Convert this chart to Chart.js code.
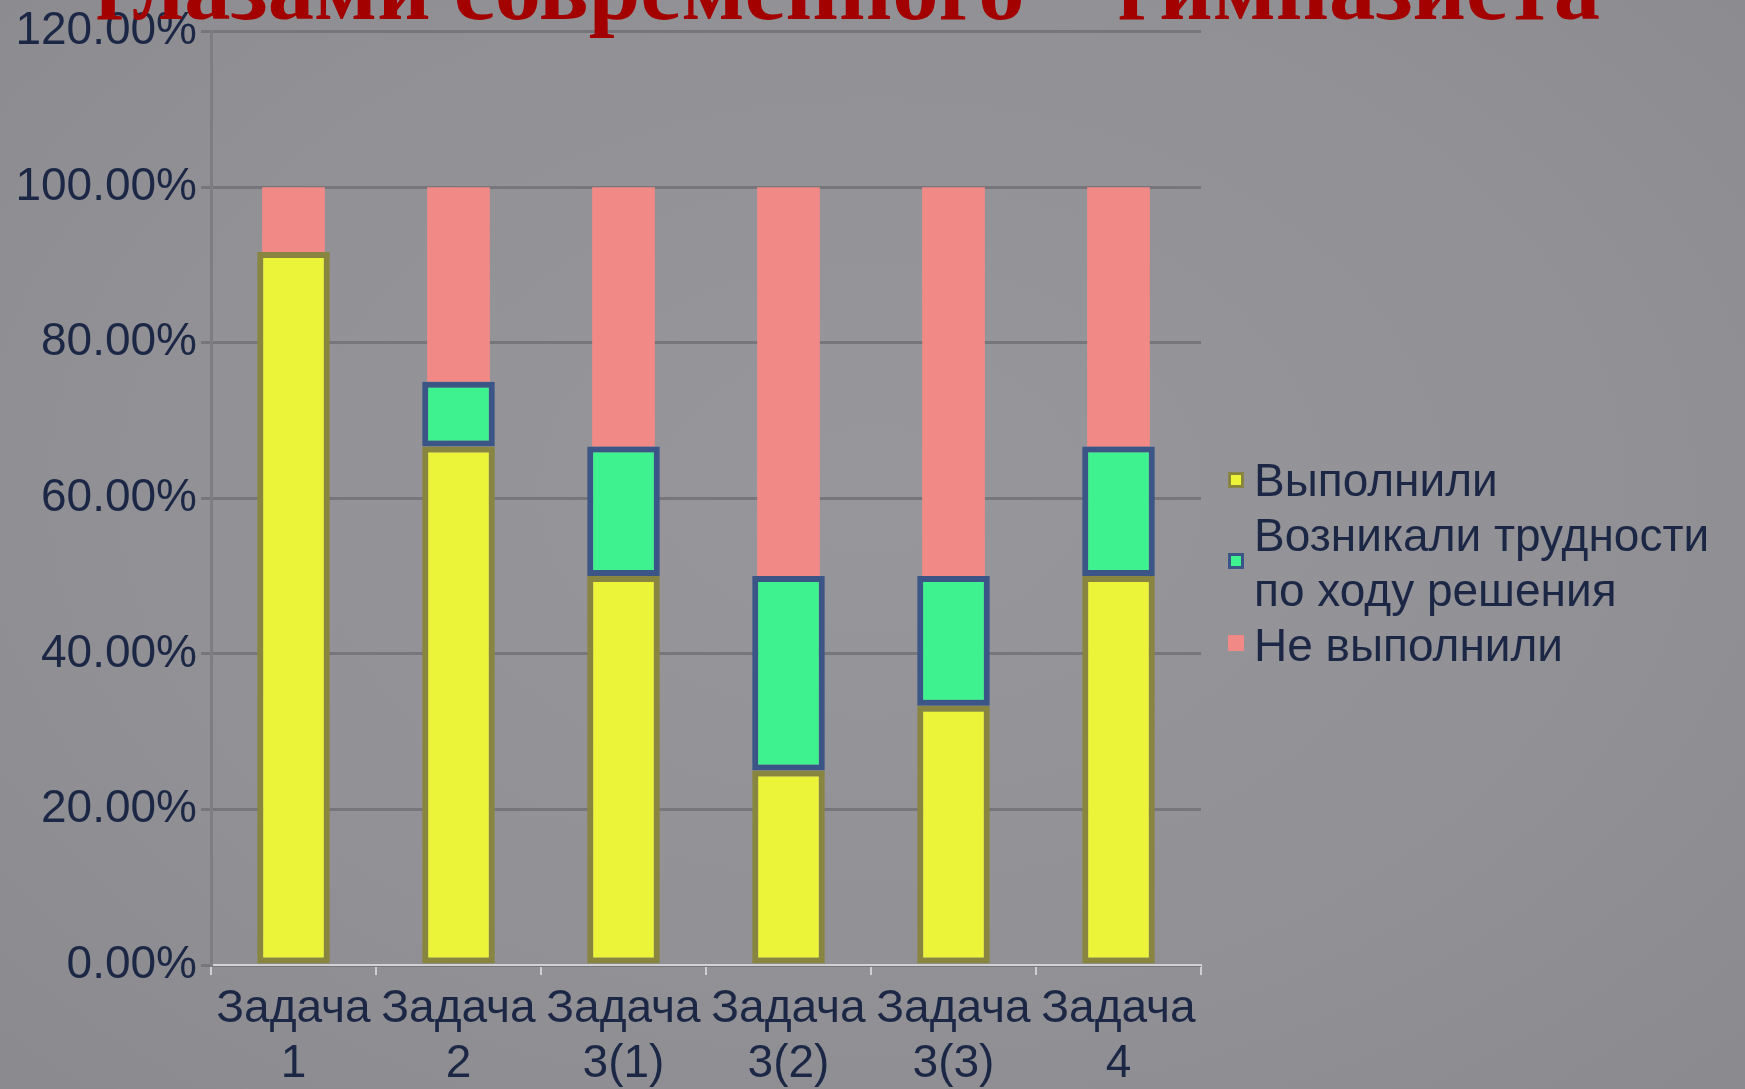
<!DOCTYPE html>
<html>
<head>
<meta charset="utf-8">
<script src="https://cdn.jsdelivr.net/npm/chart.js@4.4.0/dist/chart.umd.min.js"></script>
<style>
  html, body { margin: 0; padding: 0; }
  body {
    width: 1745px; height: 1089px; overflow: hidden; position: relative;
    background: radial-gradient(ellipse at 50% 45%, #97969b 0%, #929196 55%, #8b8a8f 100%);
  }
  #c { position: absolute; left: 0; top: 0; }
  #title {
    position: absolute; left: 95px; top: -56px; margin: 0;
    font-family: "Liberation Serif", "Times New Roman", serif; font-weight: bold;
    font-size: 90px; line-height: 90px; color: #a30000; white-space: nowrap;
    transform-origin: 0 0;
  }
  .lg { position: absolute; left: 1254px; font-family: "Liberation Sans", Arial, sans-serif;
        font-size: 46px; line-height: 55px; color: #1c2745; white-space: nowrap; }
  .mk { position: absolute; left: 1228px; width: 10px; height: 10px; border: 3px solid; }
</style>
</head>
<body>
<canvas id="c" width="1745" height="1089"></canvas>
<div id="title">глазами современного “ гимназиста</div>
<div id="legend"></div>
<script>
const categories = [['Задача','1'],['Задача','2'],['Задача','3(1)'],['Задача','3(2)'],['Задача','3(3)'],['Задача','4']];
const seriesNames = ['Выполнили', 'Возникали трудности по ходу решения', 'Не выполнили'];
const legendLines = [['Выполнили'], ['Возникали трудности', 'по ходу решения'], ['Не выполнили']];
const done      = [91.67, 66.67, 50.00, 25.00, 33.33, 50.00];
const difficult = [0.00,   8.33, 16.67, 25.00, 16.67, 16.67];
const failed    = [8.33,  25.00, 33.33, 50.00, 50.00, 33.33];
const yTicks = [0, 20, 40, 60, 80, 100, 120];

const fills   = ['#ecf43a', '#3ef28f', '#f18a86'];
const borders = ['#878540', '#3b5686', '#f18a86'];

// Legend (HTML)
(function () {
  const lg = document.getElementById('legend');
  let top = 453;
  const markerTops = [472, 553, 635];
  legendLines.forEach((lines, i) => {
    const mk = document.createElement('div');
    mk.className = 'mk';
    mk.style.top = markerTops[i] + 'px';
    mk.style.background = fills[i];
    mk.style.borderColor = borders[i];
    lg.appendChild(mk);
    lines.forEach(t => {
      const d = document.createElement('div');
      d.className = 'lg';
      d.style.top = top + 'px';
      d.textContent = t;
      lg.appendChild(d);
      top += 55;
    });
  });
})();

// Title width fit
(function () {
  const t = document.getElementById('title');
  const w = t.getBoundingClientRect().width;
  t.style.transform = 'scaleX(' + (1505 / w) + ')';
})();

const font = { family: '"Liberation Sans", Arial, sans-serif', size: 46 };

new Chart(document.getElementById('c'), {
  type: 'bar',
  data: {
    labels: categories,
    datasets: [
      { label: seriesNames[0], data: done, backgroundColor: fills[0], borderColor: borders[0],
        borderWidth: 6, borderSkipped: false, barPercentage: 0.44, categoryPercentage: 1 },
      { label: seriesNames[1], data: difficult, backgroundColor: fills[1], borderColor: borders[1],
        borderWidth: 6, borderSkipped: false, barPercentage: 0.44, categoryPercentage: 1 },
      { label: seriesNames[2], data: failed, backgroundColor: fills[2], borderWidth: 0,
        barPercentage: 0.38, categoryPercentage: 1 }
    ]
  },
  options: {
    responsive: false,
    animation: false,
    devicePixelRatio: 1,
    layout: { padding: { left: 0, right: 544, top: 29, bottom: 0 } },
    plugins: { legend: { display: false }, tooltip: { enabled: false }, title: { display: false } },
    scales: {
      x: {
        stacked: true,
        grid: { drawOnChartArea: false, drawTicks: true, tickLength: 10, color: '#cfcfd3', lineWidth: 2, offset: true },
        border: { display: true, color: '#d2d2d6', width: 2 },
        ticks: { color: '#1c2745', font: font, padding: 7, autoSkip: false, maxRotation: 0, minRotation: 0 },
        afterFit: s => { s.height = 124; }
      },
      y: {
        stacked: true,
        min: 0, max: 120,
        afterBuildTicks: s => { s.ticks = yTicks.map(v => ({ value: v })); },
        grid: { color: '#76767b', lineWidth: 3, tickLength: 10, drawTicks: true },
        border: { display: true, color: '#7e7d82', width: 3 },
        ticks: { color: '#1c2745', font: font, padding: 4, callback: v => v.toFixed(2) + '%' },
        afterFit: s => { s.width = 211; }
      }
    }
  }
});
</script>
</body>
</html>
